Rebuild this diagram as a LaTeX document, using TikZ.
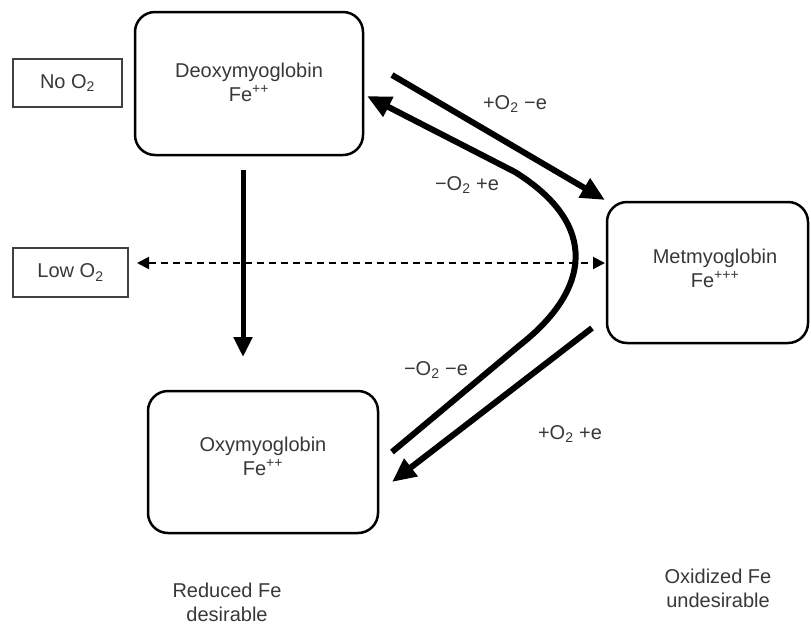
\documentclass[tikz,border=0pt]{standalone}
\usepackage{fontspec}
\setmainfont{Liberation Sans}
\usetikzlibrary{arrows.meta,calc}
\begin{document}
\begin{tikzpicture}[x=1pt,y=-1pt,
  box/.style={draw=black,line width=2.5pt,rounded corners=20pt,inner sep=0pt},
  tag/.style={draw=black!75,line width=1.5pt,inner sep=0pt,text=black!78,font=\fontsize{20}{24}\selectfont},
  txt/.style={text=black!78,font=\fontsize{20}{24}\selectfont,align=center,inner sep=0pt},
  big/.style={line width=6pt,line join=round,-{Triangle[length=24pt,width=21pt]}},
  vert/.style={line width=5pt,-{Triangle[length=20pt,width=18pt]}},
  dashline/.style={line width=2pt,dash pattern=on 7pt off 5pt,{Triangle[length=12pt,width=12pt]}-{Triangle[length=12pt,width=12pt]}}
]
\useasboundingbox (0,0) rectangle (811,625);

% boxes
\node[box,minimum width=228pt,minimum height=143pt] (deoxy) at (249,83.5) {};
\node[box,minimum width=201pt,minimum height=141pt] (met) at (707.5,272.5) {};
\node[box,minimum width=230pt,minimum height=142pt] (oxy) at (263,462) {};
\node[tag,minimum width=109pt,minimum height=48pt] (noo) at (67.5,83) {No O\textsubscript{2}};
\node[tag,minimum width=115pt,minimum height=49pt] (lowo) at (70.5,272.5) {Low O\textsubscript{2}};

% box texts
\node[txt] (tdeoxy) at (249,82) {Deoxymyoglobin\\Fe\textsuperscript{++}};
\node[txt] (tmet) at (715,268) {Metmyoglobin\\Fe\textsuperscript{+++}};
\node[txt] (toxy) at (263,456) {Oxymyoglobin\\Fe\textsuperscript{++}};
\node[txt] (tred) at (227,602) {Reduced Fe\\desirable};
\node[txt] (tox) at (718,588) {Oxidized Fe\\undesirable};

% connector labels
\node[txt] (l1) at (515,104) {+O\textsubscript{2} −e};
\node[txt] (l2) at (467,185) {−O\textsubscript{2} +e};
\node[txt] (l3) at (436,370) {−O\textsubscript{2} −e};
\node[txt] (l4) at (570,434) {+O\textsubscript{2} +e};

% connector end points
\coordinate (a1s) at (392,75);
\coordinate (a1e) at (605,200);
\coordinate (cs) at (392,452);
\coordinate (c1) at (520,345);
\coordinate (c2) at (515,172);
\coordinate (ce) at (367,96);
\coordinate (a3s) at (592,328);
\coordinate (a3e) at (392,482);
\coordinate (vs) at (243,170);
\coordinate (ve) at (243,357);
\coordinate (dl) at (137,263);
\coordinate (dr) at (605,263);

% connectors
\draw[big] (a1s) -- (a1e);
\draw[big] (cs) -- (c1) .. controls (590,290) and (600,225) .. (c2) -- (ce);
\draw[big] (a3s) -- (a3e);
\draw[vert] (vs) -- (ve);
\draw[dashline] (dl) -- (dr);
\end{tikzpicture}
\end{document}
